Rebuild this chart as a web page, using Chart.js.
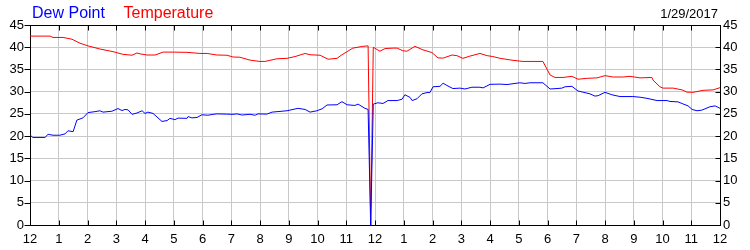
<!DOCTYPE html>
<html><head><meta charset="utf-8">
<script src="https://cdn.jsdelivr.net/npm/chart.js@4.4.0/dist/chart.umd.min.js"></script>
<style>html,body{margin:0;padding:0;background:#fff;}#wrap{width:750px;height:250px;}</style>
</head><body><div id="wrap"><canvas id="c" width="750" height="250"></canvas></div>
<script>
// Tick labels
const xTickLabels = ['12','1','2','3','4','5','6','7','8','9','10','11','12','1','2','3','4','5','6','7','8','9','10','11','12'];
const yTickLabels = ['0','5','10','15','20','25','30','35','40','45'];
const seriesNames = ['Dew Point', 'Temperature'];
const dateLabel = '1/29/2017';

// Temperature (hours since start, value)
const tempHours = [0.00,0.70,0.80,1.15,1.46,1.74,2.02,2.43,2.89,3.23,3.55,3.72,3.83,4.07,4.35,4.63,4.97,5.46,5.91,6.16,6.50,6.85,7.06,7.30,7.65,8.00,8.17,8.59,8.94,9.22,9.57,9.74,10.09,10.37,10.68,10.85,11.03,11.23,11.58,11.76,11.85,11.94,12.17,12.35,12.63,12.77,12.97,13.11,13.39,13.67,13.98,14.19,14.37,14.68,14.85,15.06,15.30,15.65,15.90,16.10,16.35,16.80,17.15,17.84,18.09,18.26,18.54,18.85,19.06,19.37,19.72,20.00,20.28,20.63,20.87,21.22,21.63,21.67,21.91,22.02,22.37,22.68,22.85,23.06,23.41,23.76,24.00];
const tempValues = [42.5,42.5,42.2,42.2,41.8,40.9,40.3,39.6,39.0,38.4,38.2,38.7,38.5,38.25,38.25,38.9,38.9,38.85,38.6,38.6,38.25,38.2,37.8,37.75,37.1,36.8,36.8,37.4,37.5,37.9,38.6,38.3,38.2,37.3,37.5,38.3,39.0,39.8,40.2,40.3,0,40.0,39.1,39.7,39.8,39.8,39.2,39.1,40.2,39.4,38.8,37.6,37.55,38.25,38.1,37.5,38.0,38.6,38.1,37.9,37.5,37.05,36.8,36.8,33.75,33.2,33.2,33.45,32.8,33.0,33.1,33.6,33.3,33.3,33.45,33.1,33.2,32.6,31.1,30.8,30.8,30.4,29.9,29.85,30.3,30.4,30.9];

// Dew point (hours since start, value)
const dewHours = [0.00,0.10,0.52,0.63,0.80,1.04,1.22,1.32,1.50,1.63,1.84,2.02,2.26,2.43,2.54,2.85,3.06,3.20,3.30,3.41,3.55,3.72,3.90,4.00,4.10,4.28,4.59,4.77,4.87,5.04,5.15,5.46,5.50,5.63,5.81,5.98,6.19,6.37,6.50,6.85,7.06,7.20,7.37,7.65,7.83,7.93,8.24,8.42,8.94,9.32,9.57,9.74,9.98,10.16,10.33,10.68,10.85,11.03,11.30,11.41,11.65,11.76,11.85,11.94,12.10,12.28,12.45,12.77,12.94,13.04,13.22,13.29,13.46,13.63,13.81,13.91,14.02,14.26,14.37,14.50,14.71,14.96,15.13,15.37,15.65,15.76,16.00,16.35,16.59,17.04,17.22,17.39,17.84,18.09,18.33,18.50,18.61,18.85,19.06,19.23,19.48,19.65,19.76,20.00,20.24,20.52,20.97,21.22,21.46,21.81,22.16,22.26,22.54,22.71,22.89,23.03,23.20,23.37,23.65,23.83,24.00];
const dewValues = [20.25,19.7,19.7,20.4,20.2,20.2,20.5,21.2,21.0,23.6,24.1,25.3,25.5,25.7,25.4,25.6,26.2,25.75,26.0,25.9,24.9,25.2,25.7,25.1,25.4,25.1,23.3,23.5,24.0,23.7,24.05,24.0,24.4,24.1,24.2,24.8,24.7,24.9,25.0,24.95,24.9,25.0,24.75,24.9,24.7,25.0,24.95,25.4,25.7,26.25,26.0,25.4,25.7,26.15,27.0,27.05,27.75,27.05,26.9,27.2,26.25,26.0,0,27.2,27.5,27.35,28.0,28.0,28.3,29.3,28.7,28.0,28.4,29.5,29.8,29.8,31.1,31.2,31.9,31.4,30.7,30.8,30.6,31.0,31.0,30.85,31.65,31.7,31.6,32.0,31.85,32.0,32.0,30.6,30.7,30.8,31.1,31.2,30.15,29.9,29.5,29.0,29.1,29.85,29.3,28.9,28.9,28.75,28.5,28.0,28.0,27.8,27.7,27.25,26.8,26.0,25.7,25.85,26.6,26.8,26.25];

const FONT = '"Liberation Sans", Arial, sans-serif';

const decor = {
  id: 'decor',
  afterDraw(chart) {
    const { ctx, chartArea: a, scales } = chart;
    ctx.save();
    ctx.strokeStyle = '#000';
    ctx.lineWidth = 1;
    ctx.beginPath();
    const top = Math.round(a.top) + 0.5;
    const bot = Math.round(a.bottom) + 0.5;
    const lft = Math.round(a.left) + 0.5;
    const rgt = Math.round(a.right) + 0.5;
    ctx.moveTo(lft, top); ctx.lineTo(rgt, top);
    scales.x.ticks.forEach(t => {
      const px = Math.round(scales.x.getPixelForValue(t.value)) + 0.5;
      ctx.moveTo(px, bot); ctx.lineTo(px, bot - 5);
      ctx.moveTo(px, top); ctx.lineTo(px, top + 5);
    });
    scales.y.ticks.forEach(t => {
      const py = Math.round(scales.y.getPixelForValue(t.value)) + 0.5;
      ctx.moveTo(lft - 6, py); ctx.lineTo(lft, py);
      ctx.moveTo(rgt - 5, py); ctx.lineTo(rgt, py);
    });
    ctx.stroke();
    ctx.textBaseline = 'alphabetic';
    ctx.font = '16px ' + FONT;
    ctx.textAlign = 'left';
    ctx.fillStyle = '#0000ff';
    ctx.fillText(seriesNames[0], 32, 18);
    ctx.fillStyle = '#ff0000';
    ctx.fillText(seriesNames[1], 123.5, 18);
    ctx.font = '13px ' + FONT;
    ctx.fillStyle = '#000';
    ctx.textAlign = 'right';
    ctx.fillText(dateLabel, 718, 17.5);
    ctx.restore();
  }
};

const toPoints = (hs, vs) => hs.map((h, i) => ({ x: h, y: vs[i] }));

new Chart(document.getElementById('c'), {
  type: 'line',
  data: {
    datasets: [
      { label: seriesNames[0], data: toPoints(dewHours, dewValues), borderColor: '#0000ff', borderWidth: 1, pointRadius: 0, tension: 0, yAxisID: 'y' },
      { label: seriesNames[1], data: toPoints(tempHours, tempValues), borderColor: '#ff0000', borderWidth: 1, pointRadius: 0, tension: 0, yAxisID: 'y' }
    ]
  },
  options: {
    responsive: false,
    animation: false,
    devicePixelRatio: 1,
    layout: { padding: { top: 25, left: 0, right: 0, bottom: 0 } },
    plugins: { legend: { display: false }, tooltip: { enabled: false } },
    scales: {
      x: {
        type: 'linear', min: 0, max: 24,
        ticks: { stepSize: 1, autoSkip: false, maxRotation: 0, padding: 7, color: '#000', font: { family: FONT, size: 13 }, callback: (v, i) => xTickLabels[i] },
        grid: { color: '#c8c8c8', lineWidth: 1, drawTicks: false },
        border: { color: '#000', width: 1 },
        afterFit: s => { s.height = 25; }
      },
      y: {
        position: 'left', min: 0, max: 45,
        ticks: { stepSize: 5, padding: 6, color: '#000', font: { family: FONT, size: 13 }, callback: (v, i) => yTickLabels[i] },
        grid: { color: '#c8c8c8', lineWidth: 1, drawTicks: false },
        border: { color: '#000', width: 1 },
        afterFit: s => { s.width = 30; }
      },
      y2: {
        position: 'right', min: 0, max: 45,
        ticks: { stepSize: 5, padding: 3, color: '#000', font: { family: FONT, size: 13 }, callback: (v, i) => yTickLabels[i] },
        grid: { display: false, drawTicks: false },
        border: { color: '#000', width: 1 },
        afterFit: s => { s.width = 30; }
      }
    }
  },
  plugins: [decor]
});
</script>
</body></html>
